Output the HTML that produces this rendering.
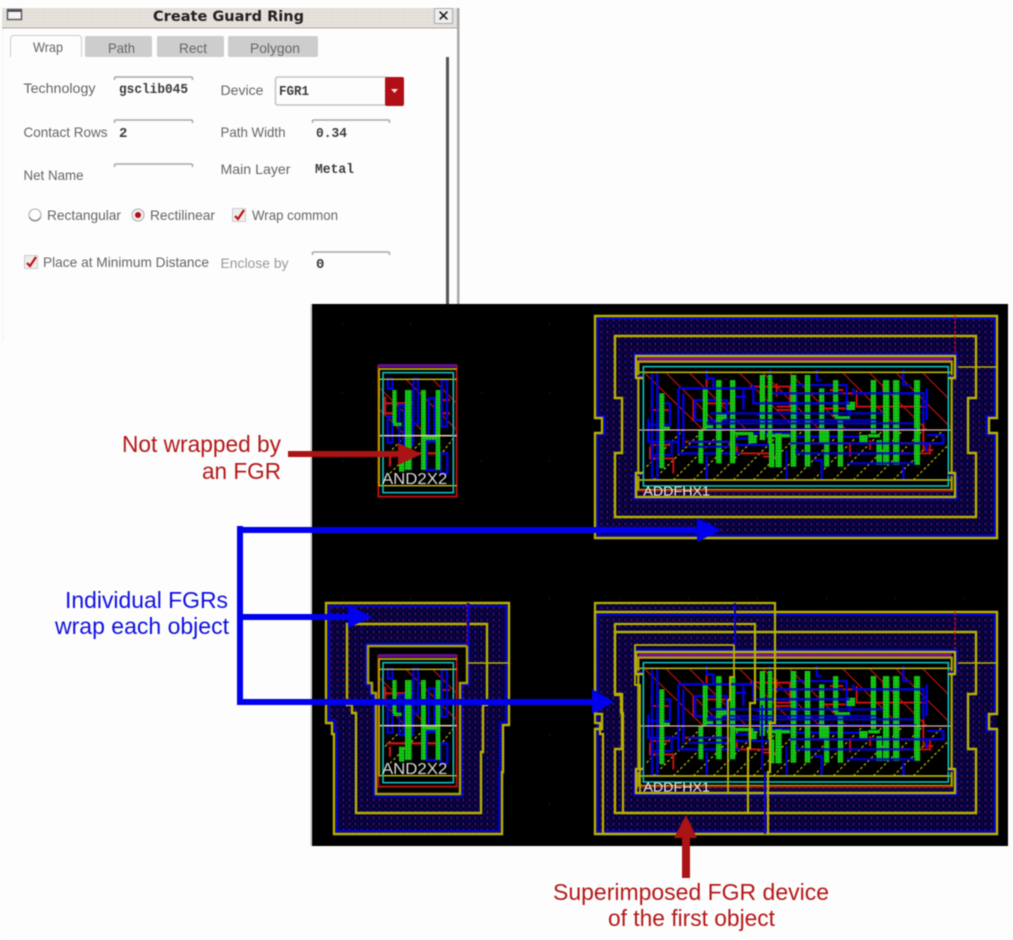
<!DOCTYPE html>
<html><head><meta charset="utf-8"><style>
html,body{margin:0;padding:0;background:#fdfdfd;width:1013px;height:940px;overflow:hidden}
svg{display:block;filter:blur(.4px)}
.d{font-family:"Liberation Sans",sans-serif;font-size:14px;fill:#666}
.m{font-family:"Liberation Mono",monospace;font-size:14px;font-weight:bold;fill:#3c3c3c}
.a{font-family:"Liberation Sans",sans-serif;font-size:23.5px}
</style></head><body>
<svg width="1013" height="940" viewBox="0 0 1013 940" xmlns="http://www.w3.org/2000/svg">
<defs>
<pattern id="dots" width="6" height="6" patternUnits="userSpaceOnUse">
<rect width="6" height="6" fill="#000038"/>
<rect x="0" y="0" width="1" height="1" fill="#10108c"/><rect x="3" y="0" width="1" height="1" fill="#10108c"/>
<rect x="0" y="3" width="1" height="1" fill="#10108c"/><rect x="3" y="3" width="1" height="1" fill="#10108c"/>
<rect x="1" y="1" width="1" height="2" fill="#b81018"/><rect x="4" y="4" width="1" height="1" fill="#501040"/>
</pattern>
<pattern id="gr" width="9" height="9" patternUnits="userSpaceOnUse">
<rect width="9" height="9" fill="#14c814"/><rect x="3" y="3" width="3" height="3" fill="#087808"/>
</pattern>
<pattern id="tit" width="3" height="3" patternUnits="userSpaceOnUse">
<rect width="3" height="3" fill="#e6e2dc"/><rect width="1" height="1" fill="#d2ccc4"/>
</pattern>
<g id="big">
<rect x="145" y="155" width="940" height="385" fill="#000"/>
<g stroke="#a81010" stroke-width="4" fill="none">
<path d="M165 190L340 360M230 190L400 360M300 190L470 360M450 190L620 360M520 190L690 360M600 190L770 360M760 190L930 360M840 190L1010 360M920 190L1080 350M1000 190L1075 265"/>
</g>
<g stroke="#b0a800" stroke-width="4" stroke-dasharray="8 7" fill="none">
<path d="M170 470L280 360M190 510L340 360M250 510L400 360M310 510L460 360M370 510L520 360M430 510L580 360M490 510L640 360M550 510L700 360M610 510L760 360M670 510L820 360M730 510L880 360M790 510L940 360M850 510L1000 360M910 510L1060 360M970 510L1075 405"/>
</g>
<g stroke="#c81010" stroke-width="6" fill="none">
<path d="M185 270V300H240M180 410V445H250V490M350 200V235M350 440V510M480 230H600V290H560M600 250H900M800 240V290H1010M720 240H760M440 400V430H540M620 400H780V440M830 400H1020V430H970M310 270V330H410M340 280H420M285 395H420V410M880 430H960M840 390V420M1000 420H1030M180 405H240M560 300H620M650 240V300M700 295H770M520 440H560M560 220V260M880 220V245M1000 300V420"/>
</g>
<g stroke="#0000e0" stroke-width="7" fill="none">
<path d="M186 185V510M202 185V510M175 325V395H265M175 345H240V280H225M190 395H245V435H190"/>
<path d="M265 235H500M265 235V430H450M280 250V415M315 270H410V330H315ZM350 180V205H370V235M350 440V510"/>
<path d="M490 225V280H780M540 180V250H600M600 225H770V300H780V320M620 250V340M680 180V210H695M790 235V250H1000V340"/>
<path d="M430 385H490M500 315H520M460 240V300M420 260H470"/>
<path d="M430 405H540V440M670 450H695V510M600 380H810M480 370H600"/>
<path d="M940 180V225H960M940 470V510H960M1010 235V330M1010 375H1060V400H1010V425M985 400H1010M975 250V430"/>
</g>
<g fill="url(#gr)">
<rect x="208" y="250" width="15" height="225"/><rect x="338" y="235" width="15" height="125"/><rect x="325" y="360" width="15" height="100"/>
<rect x="378" y="210" width="17" height="250"/><rect x="420" y="210" width="16" height="250"/><rect x="509" y="195" width="16" height="195"/>
<rect x="533" y="195" width="14" height="205"/><rect x="537" y="400" width="16" height="72"/><rect x="556" y="370" width="19" height="102"/>
<rect x="602" y="195" width="17" height="275"/><rect x="644" y="195" width="17" height="275"/><rect x="687" y="235" width="16" height="165"/>
<rect x="702" y="360" width="16" height="110"/><rect x="729" y="210" width="16" height="110"/><rect x="743" y="320" width="16" height="150"/>
<rect x="842" y="210" width="16" height="160"/><rect x="879" y="210" width="19" height="255"/><rect x="859" y="390" width="17" height="75"/>
<rect x="909" y="210" width="19" height="255"/><rect x="972" y="210" width="18" height="255"/>
<rect x="430" y="366" width="60" height="10"/><rect x="215" y="350" width="25" height="10"/><rect x="345" y="345" width="25" height="10"/>
<rect x="735" y="318" width="45" height="10"/><rect x="835" y="372" width="35" height="10"/><rect x="530" y="372" width="70" height="10"/>
<rect x="475" y="375" width="25" height="25"/><rect x="385" y="310" width="25" height="20"/><rect x="770" y="275" width="25" height="25"/><rect x="808" y="375" width="25" height="22"/>
</g>
<g stroke="#0000e0" stroke-width="7" fill="none" opacity=".85">
<path d="M350 340H970M350 358H980M360 310H880M400 330H860"/>
<path d="M295 395H420M295 410H420M600 400H990M620 415V430H780M780 430H970M770 460H975M590 420V510"/>
<path d="M265 235H500M490 280H780M600 250H760M790 250H1000"/>
</g>
<path d="M145 360H1085" stroke="#e0b0a8" stroke-width="4"/>
<path d="M145 187H1085M145 510H1085" stroke="#b8b000" stroke-width="5" fill="none"/>
<rect x="160" y="170" width="915" height="358" fill="none" stroke="#10b8b8" stroke-width="5"/>
<rect x="145" y="155" width="940" height="385" fill="none" stroke="#a8a000" stroke-width="7"/>
<path d="M145 147H1085" stroke="#7a1090" stroke-width="9"/>
<path d="M145 543H1085" stroke="#a01010" stroke-width="5"/>
<text x="160" y="556" font-family="Liberation Sans,sans-serif" font-size="40" fill="#e8e8e8" textLength="200" lengthAdjust="spacingAndGlyphs">ADDFHX1</text>
</g>
<g id="small">
<rect x="205" y="197" width="235" height="393" fill="#000" stroke="#b01010" stroke-width="6"/>
<path d="M205 197H440" stroke="#60108c" stroke-width="10"/>
<g stroke="#a81010" stroke-width="4" fill="none"><path d="M210 265L350 405M210 330L285 405M290 240L440 390M370 240L440 310"/></g>
<g stroke="#b0a800" stroke-width="4" stroke-dasharray="8 7" fill="none"><path d="M225 470L290 405M240 520L355 405M380 480L430 415"/></g>
<g stroke="#c81010" stroke-width="7" fill="none"><path d="M225 290V340H250M230 460H415M380 300H420M225 310H310M380 340H420M240 470V500"/></g>
<g stroke="#0000e0" stroke-width="7" fill="none">
<rect x="233" y="236" width="14" height="30"/><rect x="310" y="236" width="14" height="135"/><rect x="356" y="295" width="18" height="130"/><rect x="395" y="240" width="16" height="140"/>
<rect x="233" y="350" width="14" height="78"/><rect x="268" y="315" width="14" height="120"/><rect x="295" y="365" width="14" height="70"/><rect x="350" y="420" width="30" height="90"/><rect x="392" y="460" width="20" height="60"/>
</g>
<g fill="url(#gr)">
<rect x="247" y="270" width="13" height="100"/><rect x="285" y="270" width="20" height="240"/><rect x="333" y="270" width="15" height="240"/><rect x="377" y="270" width="14" height="240"/>
<rect x="267" y="470" width="16" height="45"/><rect x="250" y="368" width="25" height="10"/><rect x="345" y="408" width="35" height="12"/>
</g>
<path d="M205 238H440M205 557H440" stroke="#c8c000" stroke-width="4"/>
<path d="M205 407H440" stroke="#e0c8a8" stroke-width="5"/>
<rect x="219" y="218" width="211" height="360" fill="none" stroke="#10b8b8" stroke-width="5"/>
<path d="M205 207H440" stroke="#b8b000" stroke-width="5"/>
<path d="M207 207V557" stroke="#a8a000" stroke-width="6"/>
<text x="216" y="552" font-family="Liberation Sans,sans-serif" font-size="48" fill="#d8d8d8" textLength="196" lengthAdjust="spacingAndGlyphs">AND2X2</text>
</g>
</defs>

<rect width="1013" height="940" fill="#fdfdfd"/>

<!-- dialog -->
<rect x="2" y="8" width="457" height="20" fill="url(#tit)"/>
<path d="M2 28H458" stroke="#b8a8a0" stroke-width="1"/>
<rect x="7.5" y="9.5" width="14" height="10" fill="#f4f4f4" stroke="#555" stroke-width="1.4"/>
<path d="M8 11H21" stroke="#334" stroke-width="1.5"/>
<text x="153" y="21" font-family="DejaVu Sans,sans-serif" font-weight="bold" font-size="14" fill="#222" textLength="151" lengthAdjust="spacingAndGlyphs">Create Guard Ring</text>
<rect x="434.5" y="8.5" width="18" height="15" fill="#eee" stroke="#aaa"/>
<text x="443.5" y="21" text-anchor="middle" font-family="DejaVu Sans,sans-serif" font-weight="bold" font-size="15" fill="#111">✕</text>
<rect x="457" y="8" width="2.5" height="296" fill="#a8a8a8"/>
<rect x="446" y="57" width="3" height="247" fill="#555"/>
<path d="M3 30V340" stroke="#e4e4e4" stroke-dasharray="1 2"/>

<path d="M10.5 57V39Q10.5 35.500 14 35.500H78Q81.500 35.500 81.500 39V57" fill="#fdfdfd" stroke="#ccc"/>
<rect x="85" y="36" width="67" height="21" rx="2" fill="#cdcdcd"/>
<rect x="157" y="36" width="67" height="21" rx="2" fill="#cdcdcd"/>
<rect x="228" y="36" width="90" height="21" rx="2" fill="#cdcdcd"/>
<text class="d" x="33" y="52" textLength="30" lengthAdjust="spacingAndGlyphs">Wrap</text>
<text class="d" x="108" y="53" textLength="27" lengthAdjust="spacingAndGlyphs">Path</text>
<text class="d" x="179" y="53" textLength="28" lengthAdjust="spacingAndGlyphs">Rect</text>
<text class="d" x="250" y="53" textLength="50" lengthAdjust="spacingAndGlyphs">Polygon</text>

<g fill="none" stroke="#a8a8a8" stroke-width="1.500">
<path d="M114.500 80V78Q114.500 77 116 77H191Q192.500 77 192.500 78V80"/>
<path d="M114.500 123V121Q114.500 120 116 120H191Q192.500 120 192.500 121V123"/>
<path d="M114.500 167V165Q114.500 164 116 164H191Q192.500 164 192.500 165V167"/>
<path d="M312.500 123V121Q312.500 120 314 120H388Q389.500 120 389.500 121V123"/>
<path d="M312.500 255V253Q312.500 252 314 252H388Q389.500 252 389.500 253V255"/>
</g>
<path d="M275.500 104V80Q275.500 77 278 77H386V105H278Q275.500 105 275.500 103" fill="#fdfdfd" stroke="#c4c4c4" stroke-width="1.500"/>
<rect x="385" y="77" width="19" height="29" rx="2" fill="#b01015"/>
<path d="M391 89H398L394.500 93Z" fill="#f0e0e0"/>

<text class="d" x="23.500" y="93" textLength="72" lengthAdjust="spacingAndGlyphs">Technology</text>
<text class="m" x="119" y="93" textLength="69" lengthAdjust="spacingAndGlyphs">gsclib045</text>
<text class="d" x="220.500" y="95" textLength="43" lengthAdjust="spacingAndGlyphs">Device</text>
<text class="m" x="279" y="95" textLength="30" lengthAdjust="spacingAndGlyphs">FGR1</text>
<text class="d" x="23.500" y="137" textLength="84" lengthAdjust="spacingAndGlyphs">Contact Rows</text>
<text class="m" x="119" y="137">2</text>
<text class="d" x="220.500" y="137" textLength="65" lengthAdjust="spacingAndGlyphs">Path Width</text>
<text class="m" x="316" y="137" textLength="31" lengthAdjust="spacingAndGlyphs">0.34</text>
<text class="d" x="23.500" y="180" textLength="60" lengthAdjust="spacingAndGlyphs">Net Name</text>
<text class="d" x="220.500" y="174" textLength="70" lengthAdjust="spacingAndGlyphs">Main Layer</text>
<text class="m" x="315" y="173" textLength="39" lengthAdjust="spacingAndGlyphs">Metal</text>

<circle cx="35" cy="215" r="6" fill="#fff" stroke="#bbb" stroke-width="1.300"/>
<path d="M29.500 217A6 6 0 0 0 40.500 217" fill="none" stroke="#888" stroke-width="1.300"/>
<text class="d" x="47" y="220" textLength="74" lengthAdjust="spacingAndGlyphs">Rectangular</text>
<circle cx="138" cy="215" r="6" fill="#f4f0f4" stroke="#bbb" stroke-width="1.300"/>
<circle cx="138" cy="215" r="3" fill="#b01015"/>
<text class="d" x="150" y="220" textLength="65" lengthAdjust="spacingAndGlyphs">Rectilinear</text>
<rect x="232.500" y="208.500" width="13" height="13" fill="#eee" stroke="#ccc"/>
<path d="M235 216L238 219L244 210" fill="none" stroke="#c01015" stroke-width="2.200"/>
<text class="d" x="252" y="220" textLength="86" lengthAdjust="spacingAndGlyphs">Wrap common</text>
<rect x="24.500" y="255.500" width="13" height="13" fill="#eee" stroke="#ccc"/>
<path d="M27 263L30 266L36 257" fill="none" stroke="#c01015" stroke-width="2.200"/>
<text class="d" x="43" y="267" textLength="166" lengthAdjust="spacingAndGlyphs">Place at Minimum Distance</text>
<text class="d" x="220.500" y="268" textLength="68" lengthAdjust="spacingAndGlyphs" style="fill:#999">Enclose by</text>
<text class="m" x="316" y="268">0</text>

<!-- layout canvas -->
<rect x="312" y="304" width="696" height="542" fill="#000"/>
<path d="M311 304V846" stroke="#bbb" stroke-width="1"/>
<g fill="#101070">
<rect x="342" y="323" width="1" height="2"/><rect x="410" y="323" width="1" height="2"/><rect x="549" y="323" width="1" height="2"/>
<rect x="342" y="392" width="1" height="2"/><rect x="481" y="392" width="1" height="2"/><rect x="549" y="392" width="1" height="2"/>
<rect x="342" y="460" width="1" height="2"/><rect x="481" y="460" width="1" height="2"/><rect x="549" y="460" width="1" height="2"/>
<rect x="342" y="597" width="1" height="2"/><rect x="410" y="597" width="1" height="2"/><rect x="481" y="597" width="1" height="2"/><rect x="549" y="597" width="1" height="2"/><rect x="620" y="597" width="1" height="2"/><rect x="688" y="597" width="1" height="2"/><rect x="757" y="597" width="1" height="2"/><rect x="826" y="597" width="1" height="2"/><rect x="895" y="597" width="1" height="2"/><rect x="963" y="597" width="1" height="2"/>
<rect x="549" y="734" width="1" height="2"/><rect x="549" y="803" width="1" height="2"/>
</g>

<!-- top-right cell -->
<path d="M595 316H997V418H989V433H997V538H595V433H602V418H595Z" fill="url(#dots)"/>
<path d="M597.500 318.500H994.500V416H986.500V435H994.500V535.500H597.500V435H604.500V416H597.500Z" fill="none" stroke="#0000d0" stroke-width="2"/>
<path d="M595 316H997V418H989V433H997V538H595V433H602V418H595Z" fill="none" stroke="#b8b000" stroke-width="2.400"/>
<path d="M615 336H976V398H968V453H976V517H615V453H622V398H615Z" fill="none" stroke="#b8b000" stroke-width="2.400"/>
<path d="M955 316V367" stroke="#c01018" stroke-width="1.500" stroke-dasharray="3 2"/>
<path d="M955 367H997" stroke="#b8b000" stroke-width="1.500"/>
<g transform="translate(590 310) scale(.33333)"><use href="#big"/></g>
<path d="M643 376H634V354H957V376H948M948 475H957V499H634V475H643" fill="none" stroke="#0000d0" stroke-width="2"/>
<path d="M643 378H636V356H955V378H948M948 473H955V497H636V473H643" fill="none" stroke="#b8b000" stroke-width="2.400"/>

<!-- top-left cell -->
<g transform="translate(310 300) scale(.33333)"><use href="#small"/></g>

<!-- bottom-left cell -->
<path d="M326 603H509V725H503V772H502V834H334V734H332V723H326Z" fill="url(#dots)"/>
<path d="M329 606H506V722H500V769H499V831H337V731H335V720H329Z" fill="none" stroke="#0000d0" stroke-width="2"/>
<path d="M326 603H509V725H503V772H502V834H334V734H332V723H326Z" fill="none" stroke="#b8b000" stroke-width="2.400"/>
<path d="M347 624H487V705H483V752H481V813H356V713H352V705H347Z" fill="none" stroke="#b8b000" stroke-width="2.400"/>
<path d="M366 644H469V685H462V796H374V695H370V685H366Z" fill="#000038" stroke="#0000d0" stroke-width="2"/>
<path d="M368 646H467V683H460V794H376V693H372V683H368Z" fill="#000" stroke="#a8a000" stroke-width="2.500"/>
<path d="M468 603V646" stroke="#0000d0" stroke-width="3"/>
<path d="M467 604V646" stroke="#c01018" stroke-width="1" stroke-dasharray="3 2"/>
<path d="M467 663H508" stroke="#b8b000" stroke-width="1.500"/>
<g transform="translate(310 590) scale(.33333)"><use href="#small"/></g>

<!-- bottom-right cell -->
<path d="M595 603H776V612H997V834H595Z" fill="url(#dots)"/>
<path d="M597.500 614.500H994.500V714H986.500V731H994.500V831.500H597.500Z" fill="none" stroke="#0000d0" stroke-width="2"/>
<path d="M595 612H997V714H989V729H997V834H595V729H602V714H595Z" fill="none" stroke="#b8b000" stroke-width="2.400"/>
<path d="M615 632H976V694H968V749H976V813H615V749H622V694H615Z" fill="none" stroke="#b8b000" stroke-width="2.400"/>
<path d="M955 612V663" stroke="#c01018" stroke-width="1.500" stroke-dasharray="3 2"/>
<path d="M955 663H997" stroke="#b8b000" stroke-width="1.500"/>
<g transform="translate(590 606) scale(.33333)"><use href="#big"/></g>
<path d="M643 672H634V650H957V672H948M948 771H957V795H634V771H643" fill="none" stroke="#0000d0" stroke-width="2"/>
<path d="M643 674H636V652H955V674H948M948 769H955V793H636V769H643" fill="none" stroke="#b8b000" stroke-width="2.400"/>
<g fill="none" stroke="#b8b000" stroke-width="2.200">
<path d="M595 603H775V723H770V772H768V834H603V734H600V723H595Z"/>
<path d="M615 624H755V703H750V748H748V813H623V713H621V695H615Z"/>
<path d="M635 645H734V677H730V700H728V793H640V685H635Z" stroke-width="1.800"/>
</g>
<path d="M735 603V645" stroke="#0000d0" stroke-width="2"/>
<path d="M765 772V834M762 705V770" stroke="#0000d0" stroke-width="2"/>

<!-- arrows -->
<path d="M288 451H398V443L422 454L398 465V457H288Z" fill="#aa1414"/>
<path d="M243 527H697V518L721 530L697 542V533H243V614H348V605L372 617L348 628V620H243V699H592V689L614 702L592 714V705H237V526H243Z" fill="#0000ee"/>
<path d="M686 815L697 838H690V878H682V838H674Z" fill="#aa1414"/>

<!-- labels -->
<text class="a" x="122" y="452" fill="#b41818" textLength="159" lengthAdjust="spacingAndGlyphs">Not wrapped by</text>
<text class="a" x="202" y="479" fill="#b41818" textLength="79" lengthAdjust="spacingAndGlyphs">an FGR</text>
<text class="a" x="65" y="608" fill="#1010e0" textLength="163" lengthAdjust="spacingAndGlyphs">Individual FGRs</text>
<text class="a" x="55" y="634" fill="#1010e0" textLength="174" lengthAdjust="spacingAndGlyphs">wrap each object</text>
<text class="a" x="553" y="900" fill="#b41818" textLength="276" lengthAdjust="spacingAndGlyphs">Superimposed FGR device</text>
<text class="a" x="608" y="926" fill="#b41818" textLength="167" lengthAdjust="spacingAndGlyphs">of the first object</text>
</svg>
</body></html>
